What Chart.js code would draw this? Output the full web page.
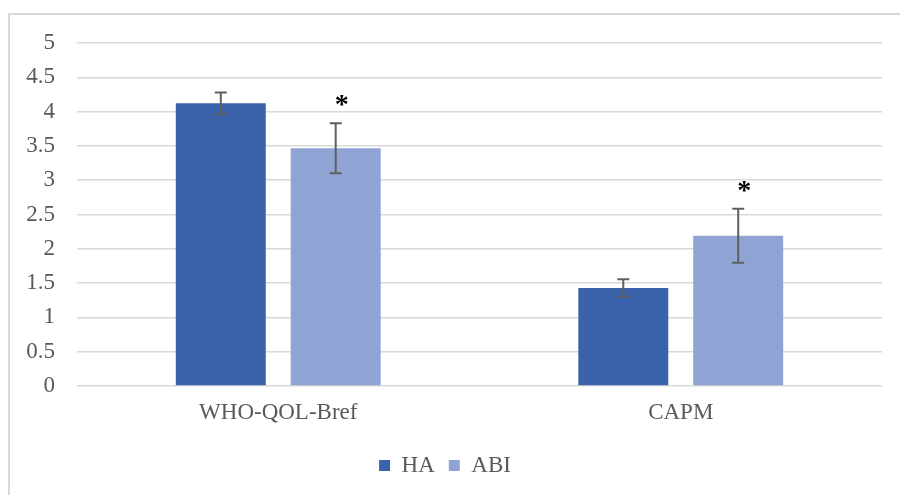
<!DOCTYPE html>
<html>
<head>
<meta charset="utf-8">
<script src="https://cdn.jsdelivr.net/npm/chart.js@4.4.0/dist/chart.umd.min.js"></script>
<style>
  html, body { margin: 0; padding: 0; background: #fff; }
  #wrap { position: relative; width: 900px; height: 495px; overflow: hidden; }
  #frame {
    position: absolute; left: 8px; top: 13px; width: 910px; height: 500px;
    border-left: 2px solid #d9d9d9; border-top: 2px solid #d9d9d9;
    pointer-events: none;
  }
</style>
</head>
<body>
<div id="wrap">
  <canvas id="myChart" width="900" height="495"></canvas>
  <div id="frame"></div>
</div>
<script>
const labels = ['WHO-QOL-Bref', 'CAPM'];
const haValues = [4.12, 1.43];
const haErrors = [0.16, 0.125];
const abiValues = [3.465, 2.19];
const abiErrors = [0.365, 0.395];
const abiMarks = ['*', '*'];
const yTicks = [0, 0.5, 1, 1.5, 2, 2.5, 3, 3.5, 4, 4.5, 5];

const textFont = { family: '"Liberation Serif"', size: 23 };

// error bars with caps, plus the significance marks above them
const errorBars = {
  id: 'errorBars',
  afterDatasetsDraw(chart) {
    const ctx = chart.ctx;
    const y = chart.scales.y;
    chart.data.datasets.forEach((ds, i) => {
      const meta = chart.getDatasetMeta(i);
      meta.data.forEach((bar, j) => {
        const v = ds.data[j];
        const e = ds.errors[j];
        const yTop = y.getPixelForValue(v + e);
        const yBot = y.getPixelForValue(v - e);
        ctx.save();
        ctx.strokeStyle = '#5f5f5f';
        ctx.lineWidth = 2;
        ctx.beginPath();
        ctx.moveTo(bar.x, yTop); ctx.lineTo(bar.x, yBot);
        ctx.moveTo(bar.x - 6, yTop); ctx.lineTo(bar.x + 6, yTop);
        ctx.moveTo(bar.x - 6, yBot); ctx.lineTo(bar.x + 6, yBot);
        ctx.stroke();
        if (ds.marks && ds.marks[j]) {
          ctx.fillStyle = '#000';
          ctx.font = 'bold 28px "Liberation Serif"';
          ctx.textAlign = 'center';
          ctx.textBaseline = 'middle';
          ctx.fillText(ds.marks[j], bar.x + 6, yTop - 17);
        }
        ctx.restore();
      });
    });
  }
};

const data = {
  labels: labels,
  datasets: [{
    label: 'HA',
    backgroundColor: '#3b63ab',
    data: haValues,
    errors: haErrors,
  }, {
    label: 'ABI',
    backgroundColor: '#8fa4d4',
    data: abiValues,
    errors: abiErrors,
    marks: abiMarks,
  }]
};

const config = {
  type: 'bar',
  data,
  options: {
    responsive: false,
    animation: false,
    categoryPercentage: 0.571,
    barPercentage: 0.783,
    layout: { padding: { left: 8, right: 18, top: 43, bottom: 8 } },
    plugins: {
      tooltip: { enabled: false },
      legend: {
        position: 'bottom',
        labels: {
          color: '#595959',
          font: textFont,
          boxWidth: 11,
          boxHeight: 11,
          padding: 14,
        }
      }
    },
    scales: {
      x: {
        afterFit: (axis) => { axis.height = 54; },
        grid: { display: false, drawTicks: false },
        border: { display: false },
        ticks: { color: '#595959', font: textFont, padding: 13 }
      },
      y: {
        min: 0,
        max: 5,
        afterBuildTicks: (axis) => { axis.ticks = yTicks.map(v => ({ value: v })); },
        afterFit: (axis) => { axis.width = 69; },
        grid: { color: '#d9d9d9', lineWidth: 1.5, drawTicks: false },
        border: { display: false },
        ticks: {
          color: '#595959',
          font: textFont,
          padding: 22,
          callback: (v) => String(v),
        }
      }
    }
  },
  plugins: [errorBars]
};

const myChart = new Chart(
  document.getElementById('myChart'),
  config
);
</script>
</body>
</html>
